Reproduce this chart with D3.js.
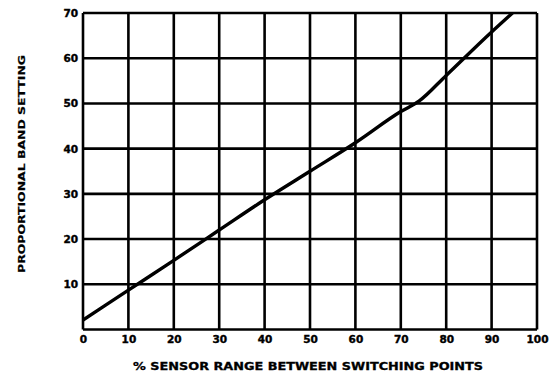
<!DOCTYPE html>
<html>
<head>
<meta charset="utf-8">
<script src="https://cdn.jsdelivr.net/npm/d3@7/dist/d3.min.js"></script>
<style>
  html, body { margin: 0; padding: 0; background: #fff; }
  svg { display: block; }
  text { font-family: "DejaVu Sans", "Liberation Sans", Arial, sans-serif; font-weight: bold; fill: #000; }
</style>
</head>
<body>
<svg id="chart" width="550" height="377"></svg>
<script>
// Proportional band setting vs % sensor range between switching points
const sensorRange = [0, 10, 20, 30, 40, 50, 60, 70, 74, 80, 90, 94.6];
const bandSetting = [2.1, 8.7, 15.3, 22, 28.7, 35, 41.3, 48.2, 50.5, 56.2, 65.8, 70];
const xTicks = [0, 10, 20, 30, 40, 50, 60, 70, 80, 90, 100];
const yTicks = [10, 20, 30, 40, 50, 60, 70];
const xTitle = "% SENSOR RANGE BETWEEN SWITCHING POINTS";
const yTitle = "PROPORTIONAL BAND SETTING";

const svg = d3.select("#chart");
const plotLeft = 83, plotRight = 537, plotTop = 13, plotBottom = 329.5;

const x = d3.scaleLinear().domain([0, 100]).range([plotLeft, plotRight]);
const y = d3.scaleLinear().domain([0, 70]).range([plotBottom, plotTop]);

// grid
const grid = svg.append("g").attr("stroke", "#000").attr("stroke-width", 2.6);
grid.selectAll("line.v").data(xTicks).join("line")
  .attr("class", "v")
  .attr("x1", d => x(d)).attr("x2", d => x(d))
  .attr("y1", plotTop).attr("y2", plotBottom);
grid.selectAll("line.h").data([0].concat(yTicks)).join("line")
  .attr("class", "h")
  .attr("x1", plotLeft).attr("x2", plotRight)
  .attr("y1", d => y(d)).attr("y2", d => y(d));

// axes (labels only)
const tickFont = "DejaVu Sans, Liberation Sans, Arial, sans-serif";
const xAxis = svg.append("g")
  .attr("transform", `translate(0,${plotBottom})`)
  .call(d3.axisBottom(x).tickValues(xTicks).tickSize(0).tickPadding(6).tickFormat(d3.format("d")));
xAxis.select(".domain").remove();
xAxis.selectAll("text")
  .attr("font-family", tickFont).attr("font-size", 10.5).attr("font-weight", "bold")
  .attr("stroke", "#000").attr("stroke-width", 0.4);

const yAxis = svg.append("g")
  .attr("transform", `translate(${plotLeft},0)`)
  .call(d3.axisLeft(y).tickValues(yTicks).tickSize(0).tickPadding(5).tickFormat(d3.format("d")));
yAxis.select(".domain").remove();
yAxis.selectAll("text")
  .attr("font-family", tickFont).attr("font-size", 10.5).attr("font-weight", "bold")
  .attr("stroke", "#000").attr("stroke-width", 0.4);

// curve
svg.append("defs").append("clipPath").attr("id", "plot")
  .append("rect").attr("x", plotLeft).attr("y", plotTop)
  .attr("width", plotRight - plotLeft).attr("height", plotBottom - plotTop);

const line = d3.line()
  .x((d, i) => x(sensorRange[i]))
  .y(d => y(d))
  .curve(d3.curveMonotoneX);

svg.append("path")
  .datum(bandSetting)
  .attr("clip-path", "url(#plot)")
  .attr("fill", "none")
  .attr("stroke", "#000")
  .attr("stroke-width", 3.4)
  .attr("stroke-linejoin", "round")
  .attr("d", line);

// titles
svg.append("text")
  .attr("x", 308).attr("y", 370)
  .attr("text-anchor", "middle")
  .attr("textLength", 350).attr("lengthAdjust", "spacingAndGlyphs")
  .attr("stroke", "#000").attr("stroke-width", 0.3)
  .style("font-size", "10px")
  .text(xTitle);

svg.append("text")
  .attr("transform", "translate(25,164) rotate(-90)")
  .attr("text-anchor", "middle")
  .attr("textLength", 218).attr("lengthAdjust", "spacingAndGlyphs")
  .attr("stroke", "#000").attr("stroke-width", 0.2)
  .style("font-size", "9.5px")
  .text(yTitle);
</script>
</body>
</html>
